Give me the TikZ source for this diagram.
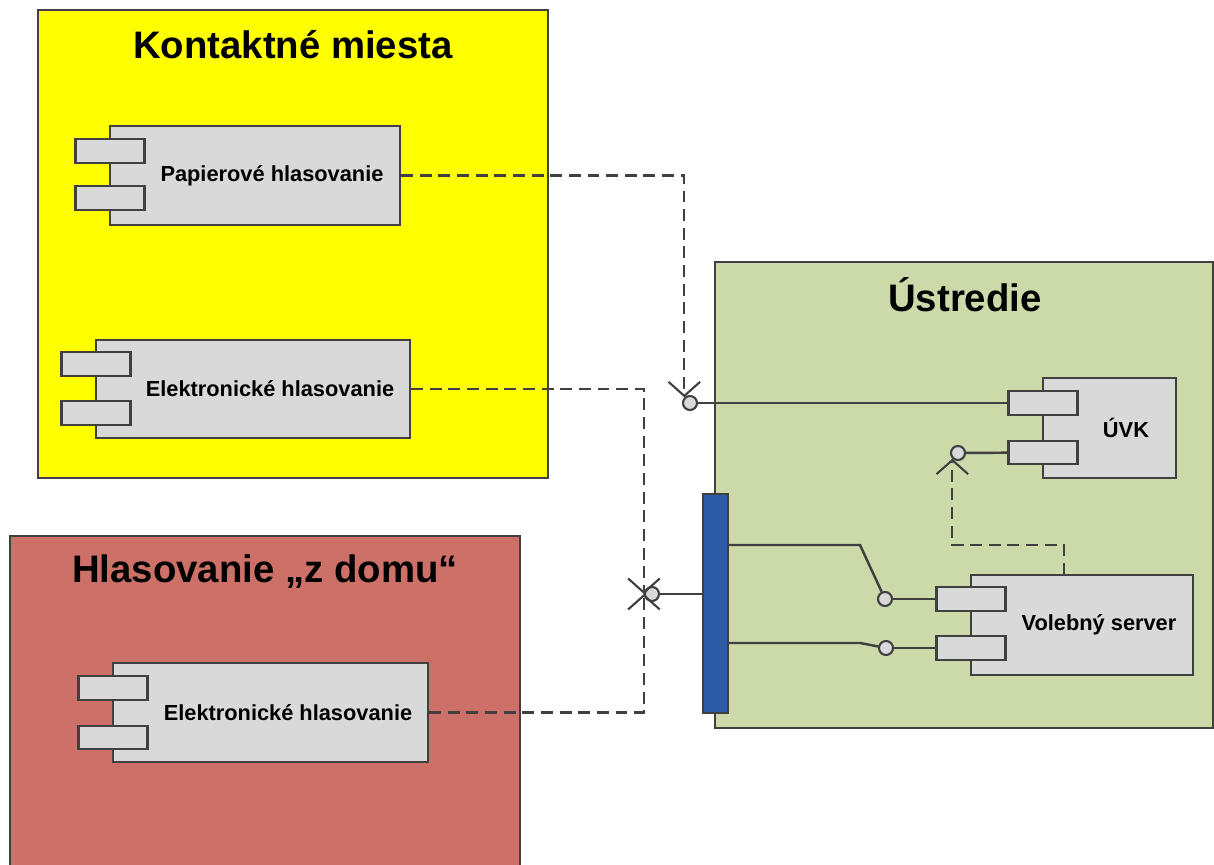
\documentclass[tikz,border=0pt]{standalone}
\usepackage{fontspec}
\setmainfont{Liberation Sans}
\usetikzlibrary{arrows.meta}

\definecolor{zlta}{HTML}{FFFF00}
\definecolor{cervena}{HTML}{CD7068}
\definecolor{zelena}{HTML}{CCDAAA}
\definecolor{modra}{HTML}{2B5BA6}
\definecolor{siva}{HTML}{D9D9D9}
\definecolor{ciara}{HTML}{404040}

\begin{document}
\begin{tikzpicture}[x=0.01cm,y=-0.01cm,
    oblast/.style={draw=ciara,line width=0.5pt},
    nadpis/.style={font=\bfseries\fontsize{10.9}{13}\selectfont},
    komp/.style={draw=ciara,fill=siva,line width=0.6pt,inner sep=0pt},
    tab/.style={komp,minimum width=0.69cm,minimum height=0.235cm},
    popis/.style={font=\bfseries\fontsize{6.2}{7.5}\selectfont},
    zasuvka/.style={circle,draw=ciara,fill=siva,line width=0.6pt,minimum size=0.14cm,inner sep=0pt},
    spoj/.style={draw=ciara,line width=0.7pt},
    dep/.style={draw=ciara,line width=0.6pt,dash pattern=on 3.4pt off 1.9pt,
                -{Straight Barb[length=4pt,width=9pt]}}]

\useasboundingbox (0,0) rectangle (1214,865);

% Oblasti
\draw[oblast,fill=zlta] (38,10) rectangle (548,478);
\draw[oblast,fill=cervena] (10,870) -- (10,536) -- (520,536) -- (520,870);
\draw[oblast,fill=zelena] (715,262) rectangle (1213,728);

\node[nadpis] (t-km) at (293,45) {Kontaktné miesta};
\node[nadpis] (t-hd) at (265,572) {Hlasovanie „z domu“};
\node[nadpis] (t-us) at (965,295) {Ústredie};

% Papierové hlasovanie
\node[komp,minimum width=2.90cm,minimum height=0.99cm] (pap) at (255,175.5) {};
\node[tab] (pap-t1) at (110,151) {};
\node[tab] (pap-t2) at (110,198) {};
\node[popis] (pap-l) at (272,175.5) {Papierové hlasovanie};

% Elektronické hlasovanie (kontaktné miesta)
\node[komp,minimum width=3.14cm,minimum height=0.98cm] (ele1) at (253,389) {};
\node[tab] (ele1-t1) at (96,364) {};
\node[tab] (ele1-t2) at (96,413) {};
\node[popis] (ele1-l) at (270,389) {Elektronické hlasovanie};

% Elektronické hlasovanie (z domu)
\node[komp,minimum width=3.15cm,minimum height=0.99cm] (ele2) at (270.5,712.5) {};
\node[tab] (ele2-t1) at (113,688) {};
\node[tab] (ele2-t2) at (113,737.5) {};
\node[popis] (ele2-l) at (288,712.5) {Elektronické hlasovanie};

% ÚVK
\node[komp,minimum width=1.33cm,minimum height=1.00cm] (uvk) at (1109.5,428) {};
\node[tab] (uvk-t1) at (1043,403) {};
\node[tab] (uvk-t2) at (1043,452.5) {};
\node[popis] (uvk-l) at (1126,428) {ÚVK};

% Volebný server
\node[komp,minimum width=2.22cm,minimum height=1.00cm] (vs) at (1082,625) {};
\node[tab] (vs-t1) at (971,599) {};
\node[tab] (vs-t2) at (971,648) {};
\node[popis] (vs-l) at (1099,625) {Volebný server};

% Zbernica
\node[draw=ciara,fill=modra,line width=0.6pt,minimum width=0.25cm,minimum height=2.19cm,inner sep=0pt] (bar) at (715.5,603.5) {};

% Zasuvky
\node[zasuvka] (s1) at (690,403) {};
\node[zasuvka] (s2) at (652,594) {};
\node[zasuvka] (s3) at (885,599) {};
\node[zasuvka] (s4) at (958,453) {};
\node[zasuvka] (s5) at (886,648) {};

% Plne spoje
\draw[spoj] (s1) -- (uvk-t1);
\draw[spoj] (s4) -- (uvk-t2);
\draw[spoj] (s2) -- (s2 -| bar.west);
\draw[spoj] (s3) -- (vs-t1);
\draw[spoj] (s5) -- (vs-t2);
\coordinate (bar-a) at (728,545);
\coordinate (bar-b) at (728,643);
\draw[spoj] (bar-a) -- (860,545) -- (s3);
\draw[spoj] (bar-b) -- (860,643) -- (s5);

% Zavislosti
\draw[dep] (pap.east) -| (s1.north west);
\draw[dep] (ele1.east) -| (s2.west);
\draw[dep] (ele2.east) -| (s2.west);
\coordinate (vs-z) at (1064,575);
\draw[dep] (vs-z) -- (1064,545) -| (s4.south west);

\end{tikzpicture}
\end{document}
